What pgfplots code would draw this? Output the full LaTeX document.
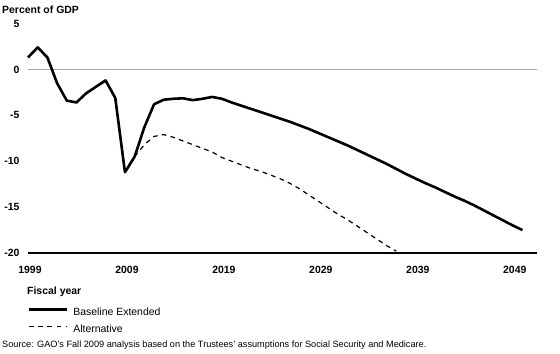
\documentclass[border=0pt]{standalone}
\usepackage{fontspec}
\setmainfont{Liberation Sans}
\usepackage{pgfplots}
\usepackage{pgfplotstable}
\pgfplotsset{compat=1.18}
\pgfplotstableread{
year val
1999 1.3
2000 2.4
2001 1.3
2002 -1.5
2003 -3.4
2004 -3.6
2005 -2.6
2006 -1.9
2007 -1.2
2008 -3.1
2009 -11.2
2010 -9.5
2011 -6.3
2012 -3.8
2013 -3.3
2014 -3.2
2015 -3.15
2016 -3.35
2017 -3.2
2018 -3.0
2019 -3.2
2020 -3.6
2021 -3.95
2022 -4.3
2023 -4.65
2024 -5.0
2025 -5.35
2026 -5.7
2027 -6.1
2028 -6.5
2029 -6.95
2030 -7.4
2031 -7.85
2032 -8.3
2033 -8.8
2034 -9.3
2035 -9.8
2036 -10.3
2037 -10.85
2038 -11.4
2039 -11.9
2040 -12.4
2041 -12.85
2042 -13.35
2043 -13.85
2044 -14.3
2045 -14.8
2046 -15.35
2047 -15.9
2048 -16.45
2049 -17.0
2050 -17.5
}\baseline
\pgfplotstableread{
year val
2010 -9.5
2011 -8.2
2012 -7.3
2013 -7.1
2014 -7.4
2015 -7.8
2016 -8.2
2017 -8.6
2018 -9.0
2019 -9.6
2020 -10.0
2021 -10.4
2022 -10.8
2023 -11.1
2024 -11.5
2025 -11.9
2026 -12.4
2027 -13.0
2028 -13.7
2029 -14.4
2030 -15.1
2031 -15.8
2032 -16.4
2033 -17.1
2034 -17.8
2035 -18.5
2036 -19.2
2037 -19.8
}\alternative
\begin{document}
\begin{tikzpicture}[x=1bp,y=1bp]
\path[use as bounding box] (0,0) rectangle (560,353);
\begin{axis}[
  at={(28bp,100bp)}, anchor=south west,
  scale only axis, width=509bp, height=229.5bp,
  xmin=1999, xmax=2051.5, ymin=-20, ymax=5,
  axis line style={draw=none},
  major tick length=0pt,
  xtick={1999,2009,2019,2029,2039,2049},
  xticklabels={1999,2009,2019,2029,2039,2049},
  ytick={-20,-15,-10,-5,0,5},
  yticklabels={-20,-15,-10,-5,0,5},
  ticklabel style={font=\fontsize{10.5}{12}\selectfont\bfseries},
  xticklabel style={yshift=-9.5bp, xshift=2bp},
  yticklabel style={xshift=-5bp},
  clip=false,
  legend style={at={(rel axis cs:0,0)}, anchor=north west, yshift=-54bp,
    draw=none, fill=none, inner sep=0pt, row sep=7.5bp, column sep=0pt,
    font=\fontsize{10.5}{12}\selectfont,
    nodes={inner sep=0pt, text height=8bp, text depth=2bp}},
  legend cell align=left,
  legend image code/.code={\draw[#1] (0bp,3bp) -- (37bp,3bp); \path (42.5bp,3bp);},
]
\draw[gray!70, line width=1.5bp] (axis cs:1999,0) -- (axis cs:2051.5,0);
\addplot[black, line width=2.6bp, line join=round] table[x=year,y=val] {\baseline};
\addlegendentry{Baseline Extended}
\addplot[black, line width=1.2bp, dash pattern=on 4.7bp off 4.3bp] table[x=year,y=val] {\alternative};
\addlegendentry{Alternative}
\draw[black, line width=2.8bp] (axis cs:1999,-20) -- (axis cs:2051.5,-20);
\end{axis}
\node[anchor=base west, font=\fontsize{10.5}{12}\selectfont\bfseries, inner sep=0pt] at (2,340) {Percent of GDP};
\node[anchor=base west, font=\fontsize{10.5}{12}\selectfont\bfseries, inner sep=0pt] at (27,59) {Fiscal year};
\node[anchor=base west, font=\fontsize{9.2}{11}\selectfont, inner sep=0pt] at (2,5.5) {Source: GAO's Fall 2009 analysis based on the Trustees' assumptions for Social Security and Medicare.};
\end{tikzpicture}
\end{document}
